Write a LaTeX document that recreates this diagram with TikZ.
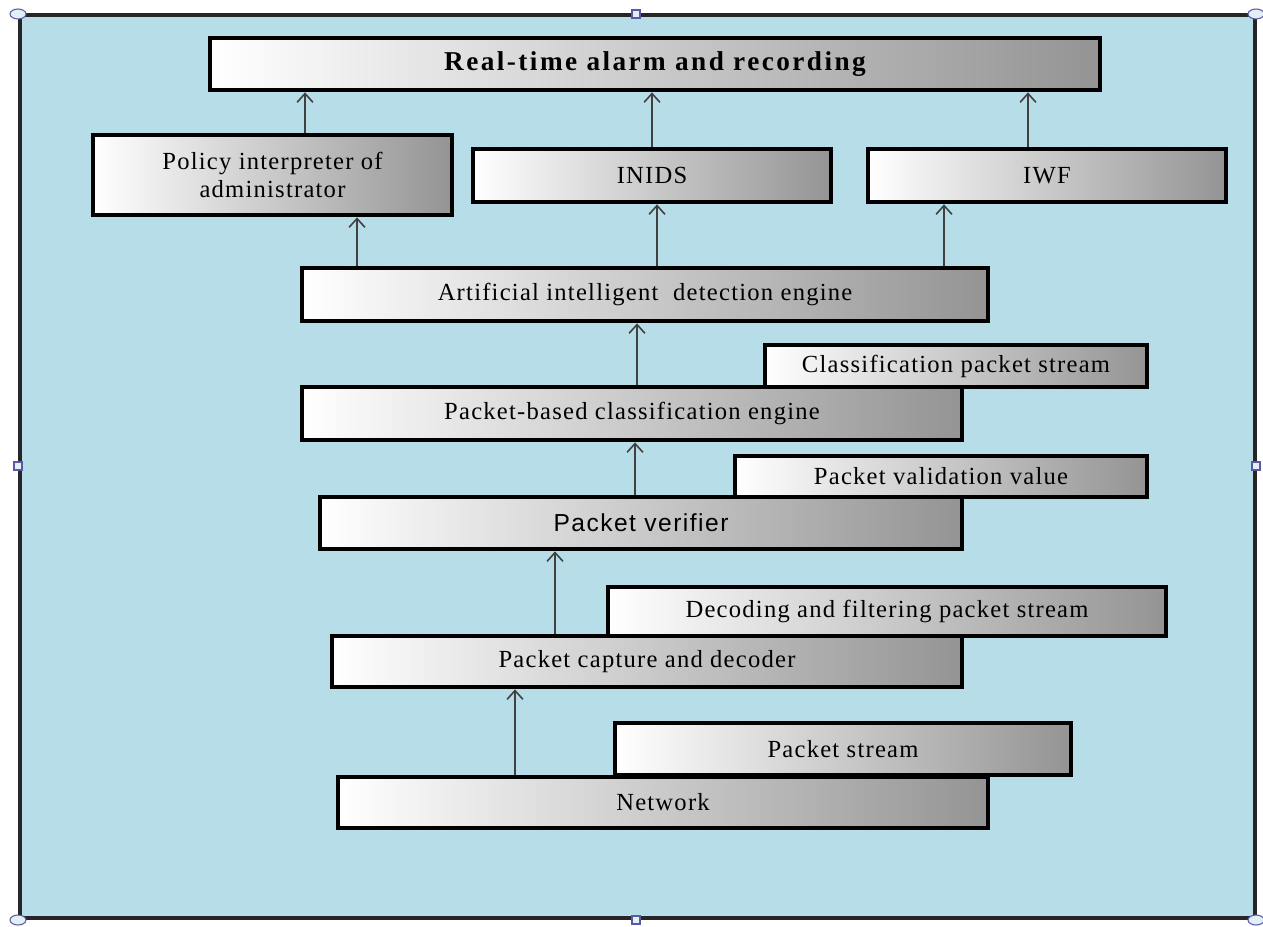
\documentclass[tikz,border=0pt]{standalone}
\usepackage{fontspec}
\setmainfont{Liberation Serif}[LetterSpace=5]
\newfontfamily\verifierfont{Liberation Sans}[LetterSpace=6]
\usetikzlibrary{arrows.meta}

\definecolor{panelblue}{RGB}{183,221,232}
\definecolor{handlefill}{RGB}{225,240,245}

\begin{document}
\begin{tikzpicture}[
    x=0.02cm,
    y=-0.02cm,
    >={Straight Barb[length=5pt,width=9pt]},
    font=\fontsize{14}{15.5}\selectfont,
    stage/.style={draw=black, line width=2.7pt, left color=white, right color=black!42, align=center, inner sep=0pt},
    tag/.style={stage},
    link/.style={->, draw=black!75, line width=0.9pt},
    handle/.style={draw=gray!70!blue, fill=handlefill, line width=0.6pt}
]
\useasboundingbox (0,0) rectangle (1263,926);

% --- Panel ---
\draw[fill=panelblue, draw=black!85, line width=2.2pt] (20,15) rectangle (1255,918);

% --- Etiquetas de flujo (detras) ---
\node[tag, minimum width=7.64cm, minimum height=0.84cm] (classtag)  at (956,366)   {Classification packet stream};
\node[tag, minimum width=8.24cm, minimum height=0.82cm] (validtag)  at (941,476.5) {Packet validation value};
\node[tag, minimum width=11.16cm, minimum height=0.98cm] (decodetag) at (887,611.5) {Decoding and filtering packet stream};
\node[tag, minimum width=9.12cm, minimum height=1.04cm] (streamtag) at (843,749)   {Packet stream};

% --- Bloques ---
\node[stage, minimum width=17.8cm, minimum height=1.04cm, font=\fontsize{15.5}{17}\selectfont\bfseries\addfontfeature{LetterSpace=9}] (alarm) at (655,64) {Real-time alarm and recording};
\node[stage, minimum width=7.18cm, minimum height=1.6cm]  (policy)   at (272.5,175)  {Policy interpreter of\\administrator};
\node[stage, minimum width=7.16cm, minimum height=1.06cm] (inids)    at (652,175.5)  {INIDS};
\node[stage, minimum width=7.16cm, minimum height=1.06cm] (iwf)      at (1047,175.5) {IWF};
\node[stage, minimum width=13.72cm, minimum height=1.06cm] (detect)  at (645,294.5)  {Artificial intelligent\ \ detection engine};
\node[stage, minimum width=13.2cm, minimum height=1.06cm] (classify) at (632,413.5)  {Packet-based classification engine};
\node[stage, minimum width=12.84cm, minimum height=1.04cm, font=\fontsize{14}{15.5}\verifierfont] (verifier) at (641,523) {Packet verifier};
\node[stage, minimum width=12.6cm, minimum height=1.02cm] (capture)  at (647,661.5)  {Packet capture and decoder};
\node[stage, minimum width=13cm, minimum height=1.02cm]   (network)  at (663,802.5)  {Network};

% --- Flechas ---
\draw[link] (305,0 |- policy.north) -- (305,0 |- alarm.south);
\draw[link] (652,0 |- inids.north) -- (652,0 |- alarm.south);
\draw[link] (1028,0 |- iwf.north) -- (1028,0 |- alarm.south);
\draw[link] (357,0 |- detect.north) -- (357,0 |- policy.south);
\draw[link] (657,0 |- detect.north) -- (657,0 |- inids.south);
\draw[link] (944,0 |- detect.north) -- (944,0 |- iwf.south);
\draw[link] (637,0 |- classify.north) -- (637,0 |- detect.south);
\draw[link] (635,0 |- verifier.north) -- (635,0 |- classify.south);
\draw[link] (555,0 |- capture.north) -- (555,0 |- verifier.south);
\draw[link] (515,0 |- network.north) -- (515,0 |- capture.south);

% --- Tiradores de seleccion ---
\foreach \hx/\hy in {18/14, 1256/14, 18/920, 1256/920}
    \draw[handle] (\hx,\hy) ellipse [x radius=8, y radius=5];
\foreach \hx/\hy in {636/14, 18/466, 1256/466, 636/920}
    \draw[handle] (\hx-4,\hy-4) rectangle (\hx+4,\hy+4);

\end{tikzpicture}
\end{document}
